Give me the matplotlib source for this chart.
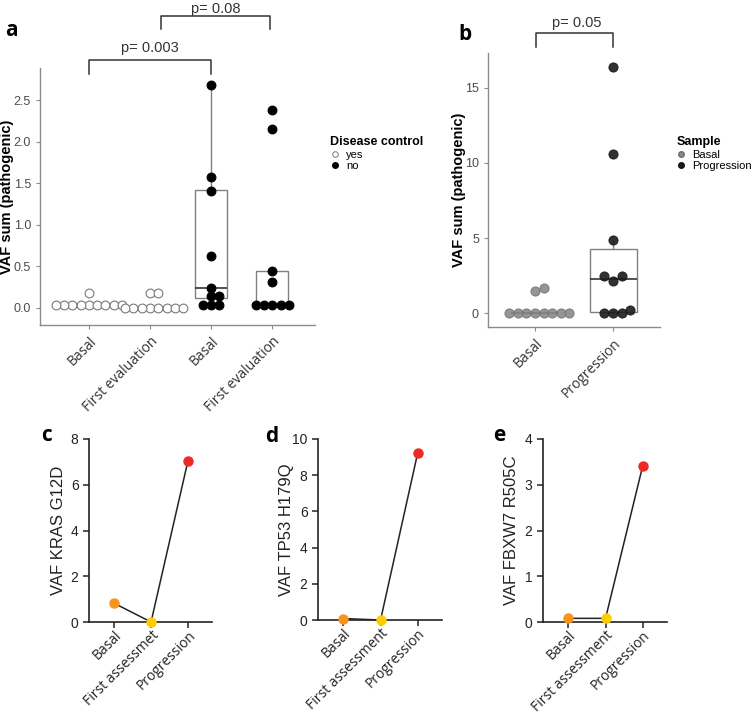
import matplotlib
matplotlib.use("Agg")
import matplotlib.pyplot as plt
import numpy as np
from matplotlib.lines import Line2D

plt.rcParams["font.family"] = ["Liberation Sans", "DejaVu Sans"]

W, H = 755, 715

# ---------------- panel a data ----------------
a_groups = ["Basal", "First evaluation", "Basal", "First evaluation"]
a_control = ["yes", "yes", "no", "no"]
a_values = [
    [0.03, 0.03, 0.03, 0.03, 0.03, 0.03, 0.03, 0.03, 0.03, 0.18],
    [0.0, 0.0, 0.0, 0.0, 0.0, 0.0, 0.0, 0.0, 0.18, 0.18],
    [0.03, 0.03, 0.03, 0.14, 0.14, 0.24, 0.62, 1.41, 1.58, 2.69],
    [0.03, 0.03, 0.03, 0.03, 0.03, 0.31, 0.44, 2.16, 2.39],
]
a_q1 = [0.02, 0.0, 0.12, 0.03]
a_med = [0.03, 0.0, 0.24, 0.03]
a_q3 = [0.04, 0.0, 1.42, 0.44]
a_whislo = [0.02, 0.0, 0.03, 0.03]
a_whishi = [0.04, 0.0, 2.69, 0.44]
a_pvals = ["p= 0.003", "p= 0.08"]

# ---------------- panel b data ----------------
b_groups = ["Basal", "Progression"]
b_values = [
    [0.03, 0.03, 0.03, 0.03, 0.03, 0.03, 0.03, 0.03, 1.45, 1.65],
    [0.0, 0.0, 0.0, 0.22, 2.13, 2.47, 2.47, 4.9, 10.6, 16.4],
]
b_q1 = [0.0, 0.07]
b_med = [0.03, 2.27]
b_q3 = [0.06, 4.27]
b_whislo = [0.0, 0.0]
b_whishi = [0.06, 4.9]
b_pval = "p= 0.05"

# ---------------- panels c-e data ----------------
line_labels_c = ["Basal", "First assessmet", "Progression"]
line_labels_de = ["Basal", "First assessment", "Progression"]
kras_g12d = [0.82, 0.0, 7.05]
tp53_h179q = [0.08, 0.0, 9.25]
fbxw7_r505c = [0.08, 0.08, 3.42]
time_colors = ["#F7941D", "#FFCC00", "#EE2A24"]

GRAY_TXT = "#4d4d4d"
SPINE_GRAY = "#8c8c8c"


def frac(left, top, right, bottom):
    return [left / W, 1 - bottom / H, (right - left) / W, (bottom - top) / H]


def swarm(values, px_x, px_y, d):
    """simple deterministic beeswarm; returns x offsets in data units"""
    values = np.asarray(values, dtype=float)
    order = np.argsort(values, kind="stable")
    placed = []
    offs = np.zeros(len(values))
    cands = [0]
    for k in range(1, 20):
        cands += [k * d / 2, -k * d / 2]
    for i in order:
        y = values[i] * px_y
        for c in cands:
            if all((c - px) ** 2 + (y - py) ** 2 >= (d * 0.98) ** 2 for px, py in placed):
                placed.append((c, y))
                offs[i] = c / px_x
                break
    return offs


def gg_axes(ax):
    for s in ["top", "right"]:
        ax.spines[s].set_visible(False)
    for s in ["left", "bottom"]:
        ax.spines[s].set_color(SPINE_GRAY)
        ax.spines[s].set_linewidth(1.0)
    ax.tick_params(colors=SPINE_GRAY, labelcolor=GRAY_TXT, length=3, width=0.8, labelsize=9)


def bxp(ax, pos, q1, med, q3, lo, hi, width):
    stats = []
    for i in range(len(pos)):
        stats.append({"q1": q1[i], "med": med[i], "q3": q3[i], "whislo": lo[i], "whishi": hi[i], "fliers": []})
    ax.bxp(stats, positions=pos, widths=width, showcaps=False, patch_artist=True,
           boxprops=dict(facecolor="white", edgecolor="#808080", linewidth=1.0),
           medianprops=dict(color="#333333", linewidth=1.2),
           whiskerprops=dict(color="#808080", linewidth=1.0), manage_ticks=False, zorder=1)


fig = plt.figure(figsize=(W / 100, H / 100), dpi=100)

# ---------------- panel a ----------------
axa = fig.add_axes(frac(40, 68, 315, 325))
a_pos = np.arange(1, len(a_groups) + 1)
a_xlim = (0.2, 4.7)
a_ylim = (-0.205, 2.89)
axa.set_xlim(*a_xlim)
axa.set_ylim(*a_ylim)
bxp(axa, a_pos, a_q1, a_med, a_q3, a_whislo, a_whishi, 0.52)
pxx = 275 / (a_xlim[1] - a_xlim[0])
pxy = 257 / (a_ylim[1] - a_ylim[0])
for p, vals, ctl in zip(a_pos, a_values, a_control):
    offs = swarm(vals, pxx, pxy, 8.3)
    fc = "white" if ctl == "yes" else "black"
    ec = "#7a7a7a" if ctl == "yes" else "black"
    axa.scatter(p + offs, vals, s=40, facecolor=fc, edgecolor=ec, linewidth=0.8, zorder=3, clip_on=False)
gg_axes(axa)
axa.set_yticks([0.0, 0.5, 1.0, 1.5, 2.0, 2.5])
axa.set_yticklabels(["0.0", "0.5", "1.0", "1.5", "2.0", "2.5"])
axa.set_xticks(a_pos)
axa.set_xticklabels(a_groups, rotation=45, ha="right", va="top", rotation_mode="anchor",
                    family="Open Sans", fontsize=10, color="#333333")
axa.set_ylabel("VAF sum (pathogenic)", fontweight="bold", fontsize=10.5, color="black")
axa.yaxis.set_label_coords(-0.094, 0.5)

# brackets
bk = dict(color="#333333", linewidth=1.1, clip_on=False)
axa.plot([1, 1, 3, 3], [2.82, 2.99, 2.99, 2.82], **bk)
axa.text(2, 3.13, a_pvals[0], ha="center", va="center", fontsize=10.5, color="#333333", clip_on=False)
axa.plot([2.18, 2.18, 3.97, 3.97], [3.36, 3.52, 3.52, 3.36], **bk)
axa.text(3.08, 3.6, a_pvals[1], ha="center", va="center", fontsize=10.5, color="#333333", clip_on=False)

leg_a = [Line2D([], [], marker="o", ls="", mfc="white", mec="#7a7a7a", ms=4, mew=0.7, label="yes"),
         Line2D([], [], marker="o", ls="", mfc="black", mec="black", ms=4, label="no")]
la = fig.legend(handles=leg_a, title="Disease control", loc="upper left",
                bbox_to_anchor=(326 / W, 1 - 132 / H), frameon=False, fontsize=8,
                title_fontproperties=dict(weight="bold", size=9), handlelength=0.8,
                handletextpad=0.6, labelspacing=0.1, borderaxespad=0)
la._legend_box.align = "left"

# ---------------- panel b ----------------
axb = fig.add_axes(frac(488, 53, 660, 327))
b_pos = np.arange(1, len(b_groups) + 1)
b_xlim = (0.4, 2.6)
b_ylim = (-0.93, 17.33)
axb.set_xlim(*b_xlim)
axb.set_ylim(*b_ylim)
bxp(axb, b_pos, b_q1, b_med, b_q3, b_whislo, b_whishi, 0.6)
pxx = 172 / (b_xlim[1] - b_xlim[0])
pxy = 274 / (b_ylim[1] - b_ylim[0])
b_fc = ["#8a8a8a", "#1c1c1c"]
b_ec = ["#6e6e6e", "#111111"]
for p, vals, fc, ec in zip(b_pos, b_values, b_fc, b_ec):
    offs = swarm(vals, pxx, pxy, 8.6)
    axb.scatter(p + offs, vals, s=44, facecolor=fc, edgecolor=ec, linewidth=0.6, alpha=0.9,
                zorder=3, clip_on=False)
gg_axes(axb)
axb.set_yticks([0, 5, 10, 15])
axb.set_xticks(b_pos)
axb.set_xticklabels(b_groups, rotation=45, ha="right", va="top", rotation_mode="anchor",
                    family="Open Sans", fontsize=10, color="#333333")
axb.set_ylabel("VAF sum (pathogenic)", fontweight="bold", fontsize=10.5, color="black")
axb.yaxis.set_label_coords(-0.125, 0.5)
axb.plot([1.02, 1.02, 2.0, 2.0], [17.73, 18.67, 18.67, 17.73], **bk)
axb.text(1.53, 19.35, b_pval, ha="center", va="center", fontsize=10.5, color="#333333", clip_on=False)

leg_b = [Line2D([], [], marker="o", ls="", mfc="#8a8a8a", mec="#6e6e6e", ms=4, label="Basal"),
         Line2D([], [], marker="o", ls="", mfc="#1c1c1c", mec="#111111", ms=4, label="Progression")]
lb = fig.legend(handles=leg_b, title="Sample", loc="upper left",
                bbox_to_anchor=(672 / W, 1 - 132 / H), frameon=False, fontsize=8,
                title_fontproperties=dict(weight="bold", size=9), handlelength=0.8,
                handletextpad=0.6, labelspacing=0.1, borderaxespad=0)
lb._legend_box.align = "left"


# ---------------- panels c-e ----------------
def prism(ax, vals, labels, ymax, yticks, ylabel):
    x = np.arange(len(vals))
    ax.plot(x, vals, color="#222222", linewidth=1.1, zorder=2, clip_on=False)
    for xi, v, c in zip(x, vals, time_colors):
        ax.plot(xi, v, marker="o", ms=6.5, color=c, mec=c, zorder=3, clip_on=False)
    ax.set_xlim(-0.68, 2.65)
    ax.set_ylim(0, ymax)
    for s in ["top", "right"]:
        ax.spines[s].set_visible(False)
    for s in ["left", "bottom"]:
        ax.spines[s].set_linewidth(1.2)
        ax.spines[s].set_color("#222222")
    ax.set_yticks(yticks)
    ax.set_xticks(x)
    ax.set_xticklabels(labels, rotation=45, ha="right", va="top", rotation_mode="anchor",
                       family="Open Sans", fontsize=8.1, color="#222222")
    ax.tick_params(length=4, width=1.1, color="#222222", labelsize=10, labelcolor="#222222")
    ax.tick_params(axis="x", pad=0.5)
    ax.set_ylabel(ylabel, fontsize=12, color="#222222")
    ax.yaxis.set_label_coords(-0.19, 0.5)


axc = fig.add_axes(frac(89, 439, 212, 622))
prism(axc, kras_g12d, line_labels_c, 8, [0, 2, 4, 6, 8], "VAF KRAS G12D")
axd = fig.add_axes(frac(318, 439, 442, 620))
prism(axd, tp53_h179q, line_labels_de, 10, [0, 2, 4, 6, 8, 10], "VAF TP53 H179Q")
axe = fig.add_axes(frac(543, 439, 667, 622))
prism(axe, fbxw7_r505c, line_labels_de, 4, [0, 1, 2, 3, 4], "VAF FBXW7 R505C")

# panel letters
for lab, x, y in [("a", 11, 31), ("b", 465, 35), ("c", 47, 435), ("d", 272, 436), ("e", 499, 435)]:
    fig.text(x / W, 1 - y / H, lab, fontsize=15, fontweight="bold", family="Open Sans",
             ha="center", va="center")

fig.savefig("out.png", dpi=100)
